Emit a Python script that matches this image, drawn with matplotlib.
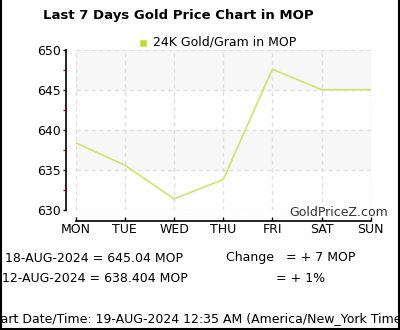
import matplotlib.pyplot as plt
from matplotlib.patches import Rectangle
from matplotlib.lines import Line2D

days = ['MON', 'TUE', 'WED', 'THU', 'FRI', 'SAT', 'SUN']
prices = [638.4, 635.6, 631.4, 633.8, 647.6, 645.04, 645.04]
y_ticks = [630, 635, 640, 645, 650]
bands = [(635, 640), (645, 650)]

W, H = 400, 330
fig = plt.figure(figsize=(4, 3.3), dpi=100)

def fx(px):
    return px / W

def fy(py):
    return 1 - py / H

ax = fig.add_axes([fx(75.7), fy(210), fx(370.7) - fx(75.7), fy(50) - fy(210)])
ax.set_xlim(0, 6)
ax.set_ylim(630, 650)
ax.patch.set_alpha(0)

for lo, hi in bands:
    ax.axhspan(lo, hi, color='#f7f7f7', zorder=0)

# dashed grid
for v in y_ticks:
    ax.axhline(v, color='#e0e0e0', lw=1, dashes=(3, 2.5), zorder=1)
for i in range(len(days)):
    ax.axvline(i, color='#e0e0e0', lw=1, dashes=(3, 2.5), zorder=1)

ax.plot(range(len(days)), prices, color='#cfe46a', lw=1.2, zorder=3)

for s in ['top', 'right']:
    ax.spines[s].set_visible(False)
ax.spines['left'].set_position(('outward', 7))
ax.spines['bottom'].set_position(('outward', 7.7))
ax.spines['bottom'].set_bounds(0, 6)
ax.spines['left'].set_linewidth(1.2)
ax.spines['bottom'].set_linewidth(1.2)

ax.set_xticks(range(len(days)))
ax.set_xticklabels(days)
ax.set_yticks(y_ticks)
ax.set_yticks([632.5, 637.5, 642.5, 647.5], minor=True)
ax.tick_params(axis='x', direction='in', length=3, width=1, pad=2, labelsize=9)
ax.tick_params(axis='y', which='major', direction='out', length=2.5, width=1, pad=1, labelsize=9)
ax.tick_params(axis='y', which='minor', direction='out', length=2.5, width=1, color='red')

fig.text(fx(388), fy(212), 'GoldPriceZ.com', ha='right', va='center', fontsize=9, color='#333333')

fig.text(fx(178), fy(15), 'Last 7 Days Gold Price Chart in MOP', ha='center', va='center',
         fontsize=9.5, fontweight='bold')

# legend
fig.add_artist(Rectangle((fx(140), fy(46)), fx(6), 6 / H, facecolor='#b9de1f', edgecolor='#cfe46a', lw=0.8))
fig.text(fx(153), fy(42), '24K Gold/Gram in MOP', ha='left', va='center', fontsize=9)

fig.text(fx(5), fy(258), '18-AUG-2024 = 645.04 MOP', ha='left', va='center', fontsize=9)
fig.text(fx(2), fy(279), '12-AUG-2024 = 638.404 MOP', ha='left', va='center', fontsize=9)
fig.text(fx(226), fy(257), 'Change   = + 7 MOP', ha='left', va='center', fontsize=9)
fig.text(fx(276), fy(279), '= + 1%', ha='left', va='center', fontsize=9)
fig.text(fx(-16), fy(319), 'Chart Date/Time: 19-AUG-2024 12:35 AM (America/New_York Time)',
         ha='left', va='center', fontsize=9)

# frame around the picture
fig.add_artist(Rectangle((fx(399), 0), 1, 1, facecolor='white', edgecolor='none', zorder=10))
fig.add_artist(Line2D([fx(0.5), fx(0.5)], [fy(0), fy(328.5)], color='black', lw=1.5, zorder=11))
fig.add_artist(Line2D([fx(398.5), fx(398.5)], [fy(0), fy(328.5)], color='black', lw=1.5, zorder=11))
fig.add_artist(Line2D([fx(0.5), fx(398.5)], [fy(328.5), fy(328.5)], color='black', lw=1.5, zorder=11))

fig.savefig('out.png', dpi=100)
